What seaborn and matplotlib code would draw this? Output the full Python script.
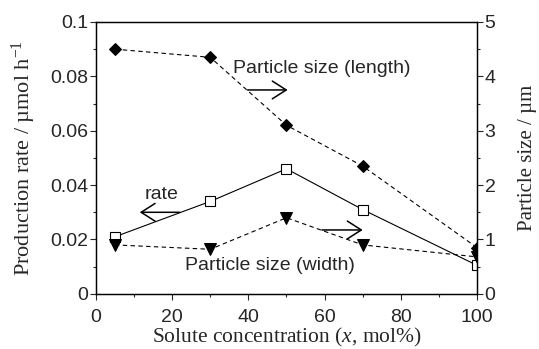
import numpy as np
import pandas as pd
import matplotlib
matplotlib.use("Agg")
import matplotlib.pyplot as plt
import seaborn as sns
from matplotlib.ticker import MultipleLocator

concentration = [5, 30, 50, 70, 100]
rate = [0.021, 0.034, 0.046, 0.031, 0.0105]
size_length = [4.5, 4.35, 3.1, 2.35, 0.85]
size_width = [0.9, 0.82, 1.4, 0.9, 0.68]

sns.set_style("ticks")
plt.rcParams['font.family'] = ['Liberation Sans', 'DejaVu Sans']
plt.rcParams['mathtext.fontset'] = 'custom'
plt.rcParams['mathtext.it'] = 'Liberation Serif:italic'
plt.rcParams['mathtext.rm'] = 'Liberation Serif'

df = pd.DataFrame({'x': concentration, 'rate': rate,
                   'length': size_length, 'width': size_width})

fig = plt.figure(figsize=(5.39, 3.49), dpi=100)
ax = fig.add_axes([0.178, 0.158, 0.707, 0.779])
ax2 = ax.twinx()

sns.lineplot(data=df, x='x', y='rate', ax=ax, color='black', lw=0.8,
             marker='s', markersize=7.5, markerfacecolor='white',
             markeredgecolor='black', markeredgewidth=0.8)
sns.lineplot(data=df, x='x', y='length', ax=ax2, color='black', lw=0.8,
             linestyle=(0, (4, 3)), marker='D', markersize=6.5,
             markerfacecolor='black', markeredgecolor='black')
sns.lineplot(data=df, x='x', y='width', ax=ax2, color='black', lw=0.8,
             linestyle=(0, (4, 3)), marker='v', markersize=9,
             markerfacecolor='black', markeredgecolor='black')

ax.set_xlim(0, 100)
ax.set_ylim(0, 0.1)
ax2.set_ylim(0, 5)
ax.xaxis.set_major_locator(MultipleLocator(20))
ax.xaxis.set_minor_locator(MultipleLocator(10))
ax.yaxis.set_minor_locator(MultipleLocator(0.01))
ax2.yaxis.set_major_locator(MultipleLocator(1))
ax2.yaxis.set_minor_locator(MultipleLocator(0.5))
ax.set_yticks([0, 0.02, 0.04, 0.06, 0.08, 0.1])
ax.set_yticklabels(['0', '0.02', '0.04', '0.06', '0.08', '0.1'])

for a in (ax, ax2):
    a.tick_params(which='major', length=4, width=0.8, labelsize=14, pad=1.5)
    a.tick_params(which='minor', length=2.5, width=0.8)
    for s in a.spines.values():
        s.set_linewidth(0.9)
        s.set_color('black')
ax.tick_params(axis='x', which='major', pad=7)
ax2.spines['right'].set_visible(True)
ax.spines['top'].set_visible(True)
ax.spines['right'].set_visible(True)

ax.set_xlabel(r'Solute concentration ($x$, mol%)', family='Liberation Serif',
              fontsize=15.5, labelpad=0)
ax.set_ylabel(r'Production rate / µmol h$^{-1}$', family='Liberation Serif',
              fontsize=16, labelpad=9)
ax2.set_ylabel('Particle size / µm', family='Liberation Serif',
               fontsize=15, labelpad=16)

arrow = dict(arrowstyle='->,head_length=0.5,head_width=0.32', color='black',
             lw=1.1, mutation_scale=20, shrinkA=0, shrinkB=0)
ax.text(36, 0.083, 'Particle size (length)', fontsize=14, va='center', ha='left')
ax.annotate('', xy=(50.3, 0.075), xytext=(39.8, 0.075), arrowprops=arrow)
ax.text(12.9, 0.0364, 'rate', fontsize=14, va='center', ha='left')
ax.annotate('', xy=(11.5, 0.030), xytext=(22, 0.030), arrowprops=arrow)
ax.text(23.4, 0.0105, 'Particle size (width)', fontsize=14, va='center', ha='left')
ax.annotate('', xy=(70, 0.0235), xytext=(59.3, 0.0235), arrowprops=arrow)

fig.savefig('out.png', dpi=100)
